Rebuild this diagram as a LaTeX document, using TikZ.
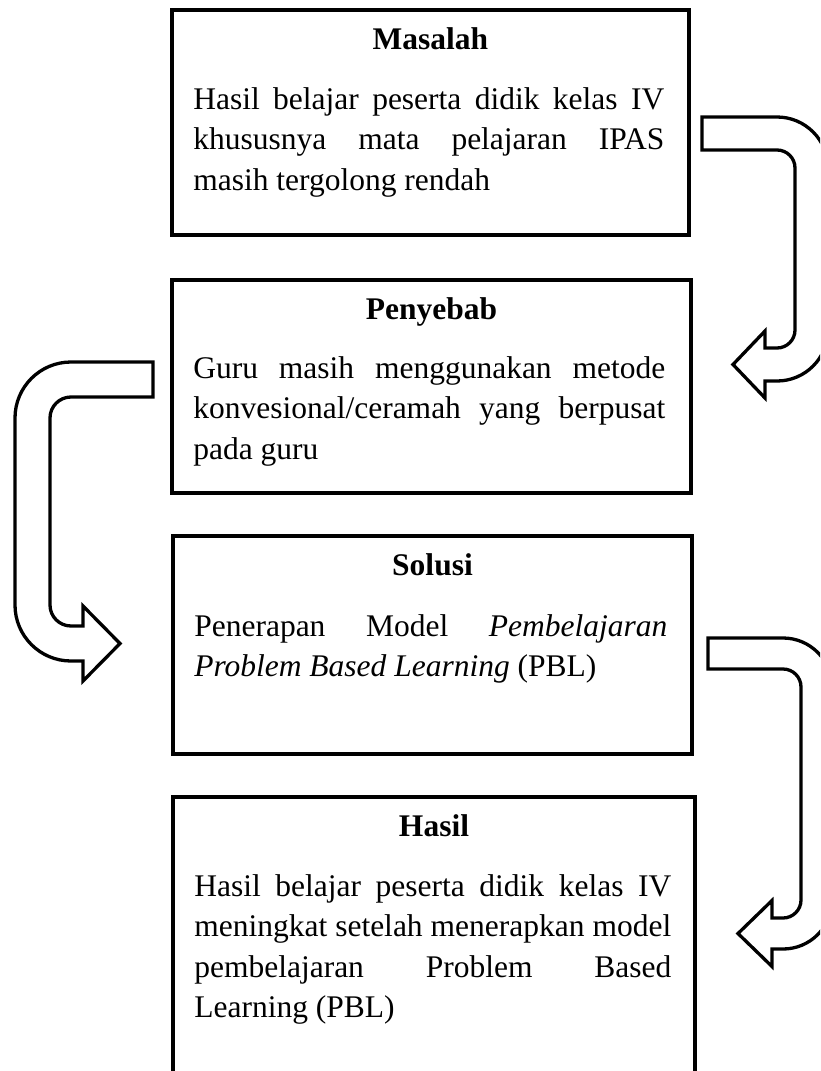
\documentclass[tikz,border=0pt]{standalone}
\usepackage{fontspec}
\setmainfont{Liberation Serif}
\begin{document}
\begin{tikzpicture}[x=1pt,y=1pt,
  box/.style={draw=black, line width=3.8pt, inner sep=0pt},
  boxtitle/.style={anchor=base, inner sep=0pt, font=\fontsize{31.5}{40.5}\selectfont\bfseries},
  boxbody/.style={anchor=base west, inner sep=0pt, align=justify, font=\fontsize{31.5}{40.5}\selectfont},
  barrow/.style={draw=black, fill=white, line width=3.3pt, line join=miter}]
\useasboundingbox (0,0) rectangle (820,-1071);
\fill[white] (0,0) rectangle (820,-1071);
\clip (0,0) rectangle (820,-1071);

% boxes
\node[box, minimum width=517pt, minimum height=225pt] (m) at (430.5,-122.5) {};
\node[box, minimum width=519pt, minimum height=213pt] (p) at (431.5,-386.5) {};
\node[box, minimum width=519pt, minimum height=218pt] (s) at (432.5,-645) {};
\node[box, minimum width=522pt, minimum height=285pt] (h) at (434,-939.5) {};

% titles
\node[boxtitle] (mt) at ([yshift=-41pt]m.north) {Masalah};
\node[boxtitle] (pt) at ([yshift=-41pt]p.north) {Penyebab};
\node[boxtitle] (st) at ([yshift=-41pt]s.north) {Solusi};
\node[boxtitle] (ht) at ([yshift=-41pt]h.north) {Hasil};

% bodies
\node[boxbody, text width=471pt] (mb) at ([xshift=23pt,yshift=-101pt]m.north west)
  {Hasil belajar peserta didik kelas IV\linebreak khususnya mata pelajaran IPAS\linebreak masih tergolong rendah};
\node[boxbody, text width=472pt] (pb) at ([xshift=23pt,yshift=-100pt]p.north west)
  {Guru masih menggunakan metode\linebreak konvesional/ceramah yang berpusat\linebreak pada guru};
\node[boxbody, text width=473pt] (sb) at ([xshift=23pt,yshift=-102pt]s.north west)
  {Penerapan Model \textit{Pembelajaran}\linebreak \textit{Problem Based Learning} (PBL)};
\node[boxbody, text width=477pt] (hb) at ([xshift=23pt,yshift=-101pt]h.north west)
  {Hasil belajar peserta didik kelas IV\linebreak meningkat setelah menerapkan model\linebreak pembelajaran Problem Based\linebreak Learning (PBL)};

% block arrows
\draw[barrow] (702,-117) -- (777,-117) arc[start angle=90,end angle=0,radius=51]
  -- (828,-330) arc[start angle=0,end angle=-90,radius=51]
  -- (765,-381) -- (765,-398) -- (733,-364.5) -- (765,-331) -- (765,-348) -- (777,-348)
  arc[start angle=-90,end angle=0,radius=18] -- (795,-168)
  arc[start angle=0,end angle=90,radius=18] -- (702,-150) -- cycle;

\draw[barrow] (153,-362) -- (71,-362) arc[start angle=90,end angle=180,radius=56]
  -- (15,-605) arc[start angle=180,end angle=270,radius=56]
  -- (83,-661) -- (83,-681) -- (120,-643.5) -- (83,-606) -- (83,-626) -- (71,-626)
  arc[start angle=270,end angle=180,radius=21] -- (50,-418)
  arc[start angle=180,end angle=90,radius=21] -- (153,-397) -- cycle;

\draw[barrow] (708,-638) -- (783,-638) arc[start angle=90,end angle=0,radius=49]
  -- (832,-900) arc[start angle=0,end angle=-90,radius=49]
  -- (772,-949) -- (772,-966.5) -- (738,-933.5) -- (772,-900.5) -- (772,-918) -- (783,-918)
  arc[start angle=-90,end angle=0,radius=18] -- (801,-687)
  arc[start angle=0,end angle=90,radius=18] -- (708,-669) -- cycle;
\end{tikzpicture}
\end{document}
